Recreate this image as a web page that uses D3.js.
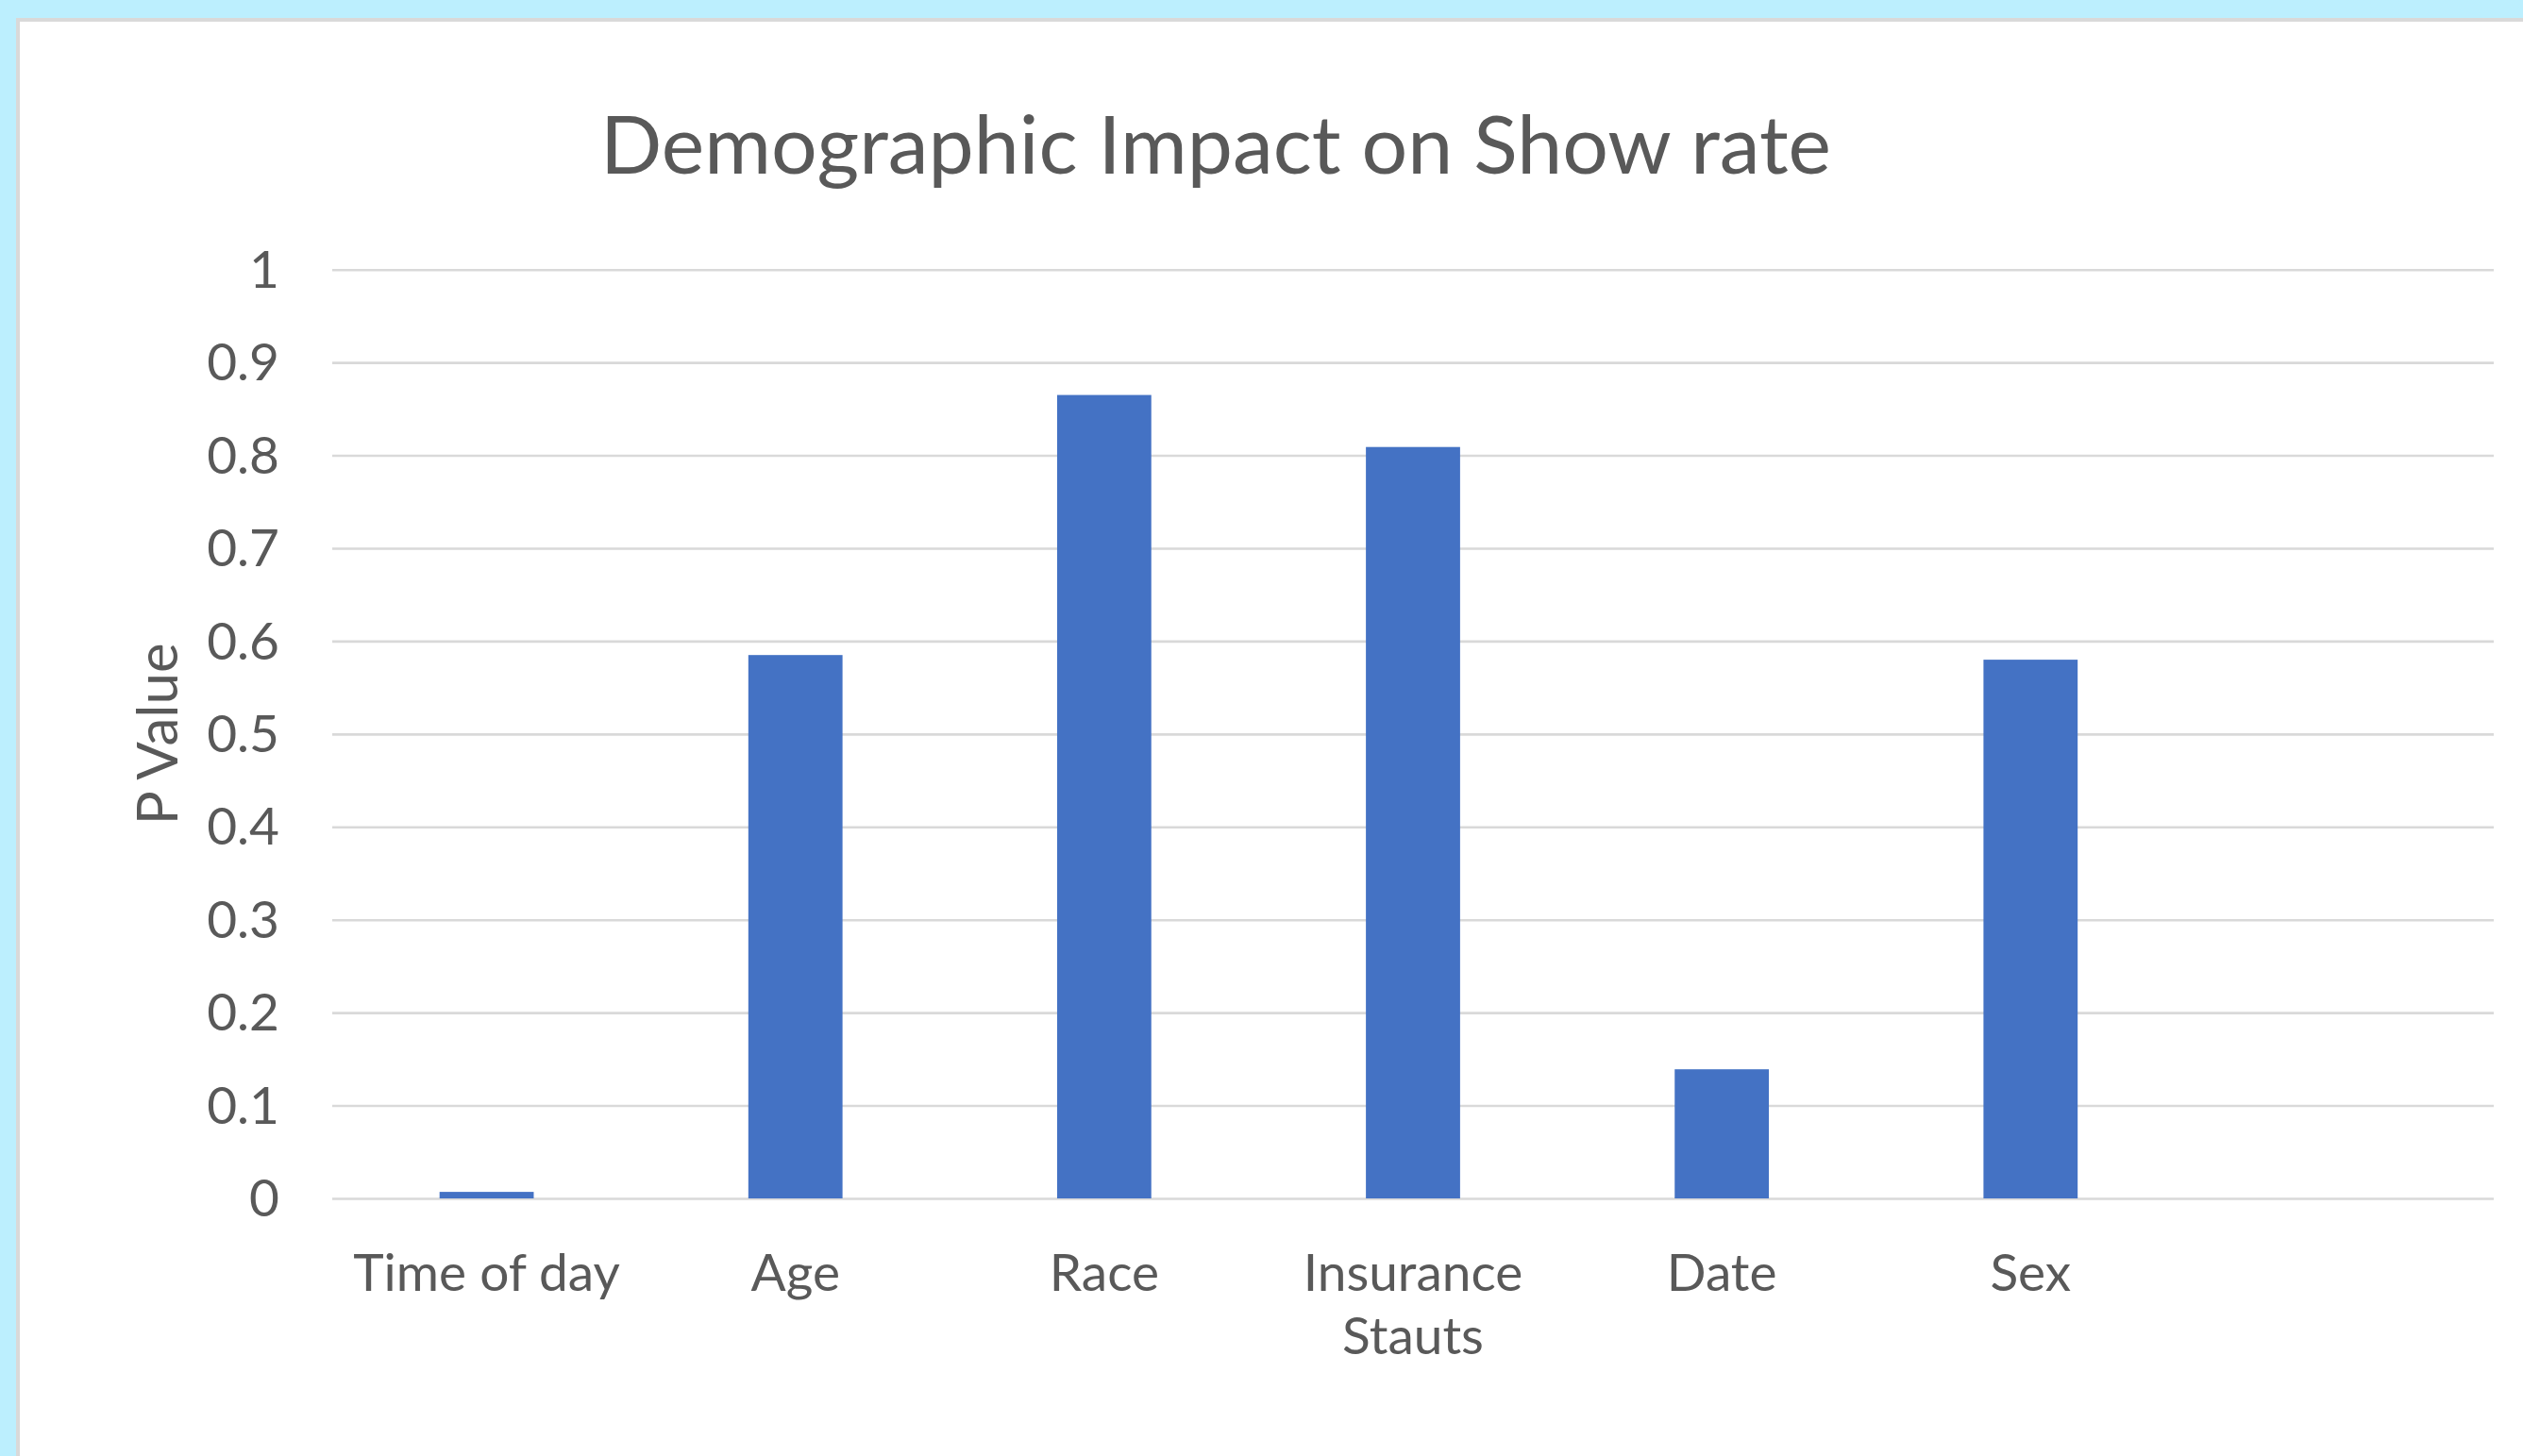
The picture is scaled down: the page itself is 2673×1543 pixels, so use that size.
<!DOCTYPE html>
<html>
<head>
<meta charset="utf-8">
<script src="https://cdn.jsdelivr.net/npm/d3@7"></script>
<style>
  html, body { margin: 0; padding: 0; background: #BCEFFE; overflow: hidden; }
  svg { display: block; }
  text { font-family: Lato, "Open Sans", sans-serif; fill: #595959; }
</style>
</head>
<body>
<svg id="chart" width="2673" height="1543"></svg>
<script>
// Categories along the x axis (the last slot is an empty category)
const categories = ["Time of day", "Age", "Race", "Insurance Stauts", "Date", "Sex", ""];
// P value for each category
const pValues = [0.007, 0.585, 0.865, 0.809, 0.139, 0.580, null];
// Y axis tick values
const yTicks = [0, 0.1, 0.2, 0.3, 0.4, 0.5, 0.6, 0.7, 0.8, 0.9, 1];

const chartTitle = "Demographic Impact on Show rate";
const yAxisTitle = "P Value";

const W = 2673, H = 1543;
const plot = { left: 352, right: 2642, top: 285.7, bottom: 1270 };

const svg = d3.select("#chart");

// Chart area panel with a thin grey frame
svg.append("rect")
  .attr("x", 19).attr("y", 21)
  .attr("width", W + 20).attr("height", H + 20)
  .attr("fill", "#ffffff")
  .attr("stroke", "#D9D9D9")
  .attr("stroke-width", 4);

const x = d3.scaleBand()
  .domain(categories)
  .range([plot.left, plot.right])
  .paddingInner(0.695)
  .paddingOuter(0.3475);

const y = d3.scaleLinear()
  .domain([0, 1])
  .range([plot.bottom, plot.top]);

// Horizontal gridlines and tick labels
const yAxis = d3.axisLeft(y)
  .tickValues(yTicks)
  .tickFormat(d3.format("~g"))
  .tickSize(-(plot.right - plot.left))
  .tickPadding(56);

const gy = svg.append("g")
  .attr("transform", `translate(${plot.left},0)`)
  .call(yAxis);
gy.select(".domain").remove();
gy.selectAll(".tick line")
  .attr("stroke", "#D9D9D9")
  .attr("stroke-width", 2.6);
gy.selectAll(".tick text")
  .attr("fill", "#595959")
  .style("font-size", "55px")
  .attr("dy", "0.34em");

// Bars
svg.append("g")
  .selectAll("rect")
  .data(categories.map((c, i) => ({ c, v: pValues[i] })).filter(d => d.v !== null))
  .join("rect")
  .attr("x", d => x(d.c))
  .attr("width", x.bandwidth())
  .attr("y", d => y(d.v))
  .attr("height", d => y(0) - y(d.v))
  .attr("fill", "#4472C4");

// Category axis labels, wrapped to the band step
const xAxis = d3.axisBottom(x).tickSize(0).tickPadding(0);
const gx = svg.append("g")
  .attr("transform", `translate(0,${plot.bottom})`)
  .call(xAxis);
gx.select(".domain").remove();
gx.selectAll(".tick text")
  .attr("fill", "#595959")
  .style("font-size", "55px")
  .attr("y", 98)
  .attr("dy", 0)
  .each(function () { wrap(d3.select(this), x.step() * 0.98); });

function wrap(text, width) {
  const words = text.text().split(/\s+/).filter(Boolean);
  if (!words.length) return;
  const yPos = text.attr("y");
  text.text(null);
  let line = [];
  let lineNo = 0;
  let tspan = text.append("tspan").attr("x", 0).attr("y", yPos).attr("dy", 0);
  for (const w of words) {
    line.push(w);
    tspan.text(line.join(" "));
    if (tspan.node().getComputedTextLength() > width && line.length > 1) {
      line.pop();
      tspan.text(line.join(" "));
      line = [w];
      lineNo += 1;
      tspan = text.append("tspan").attr("x", 0).attr("y", yPos)
        .attr("dy", (lineNo * 1.22) + "em").text(w);
    }
  }
}

// Chart title
svg.append("text")
  .attr("x", 1288)
  .attr("y", 184)
  .attr("text-anchor", "middle")
  .style("font-size", "86px")
  .text(chartTitle);

// Y axis title
svg.append("text")
  .attr("transform", `translate(188,${(plot.top + plot.bottom) / 2}) rotate(-90)`)
  .attr("text-anchor", "middle")
  .style("font-size", "60px")
  .text(yAxisTitle);
</script>
</body>
</html>
